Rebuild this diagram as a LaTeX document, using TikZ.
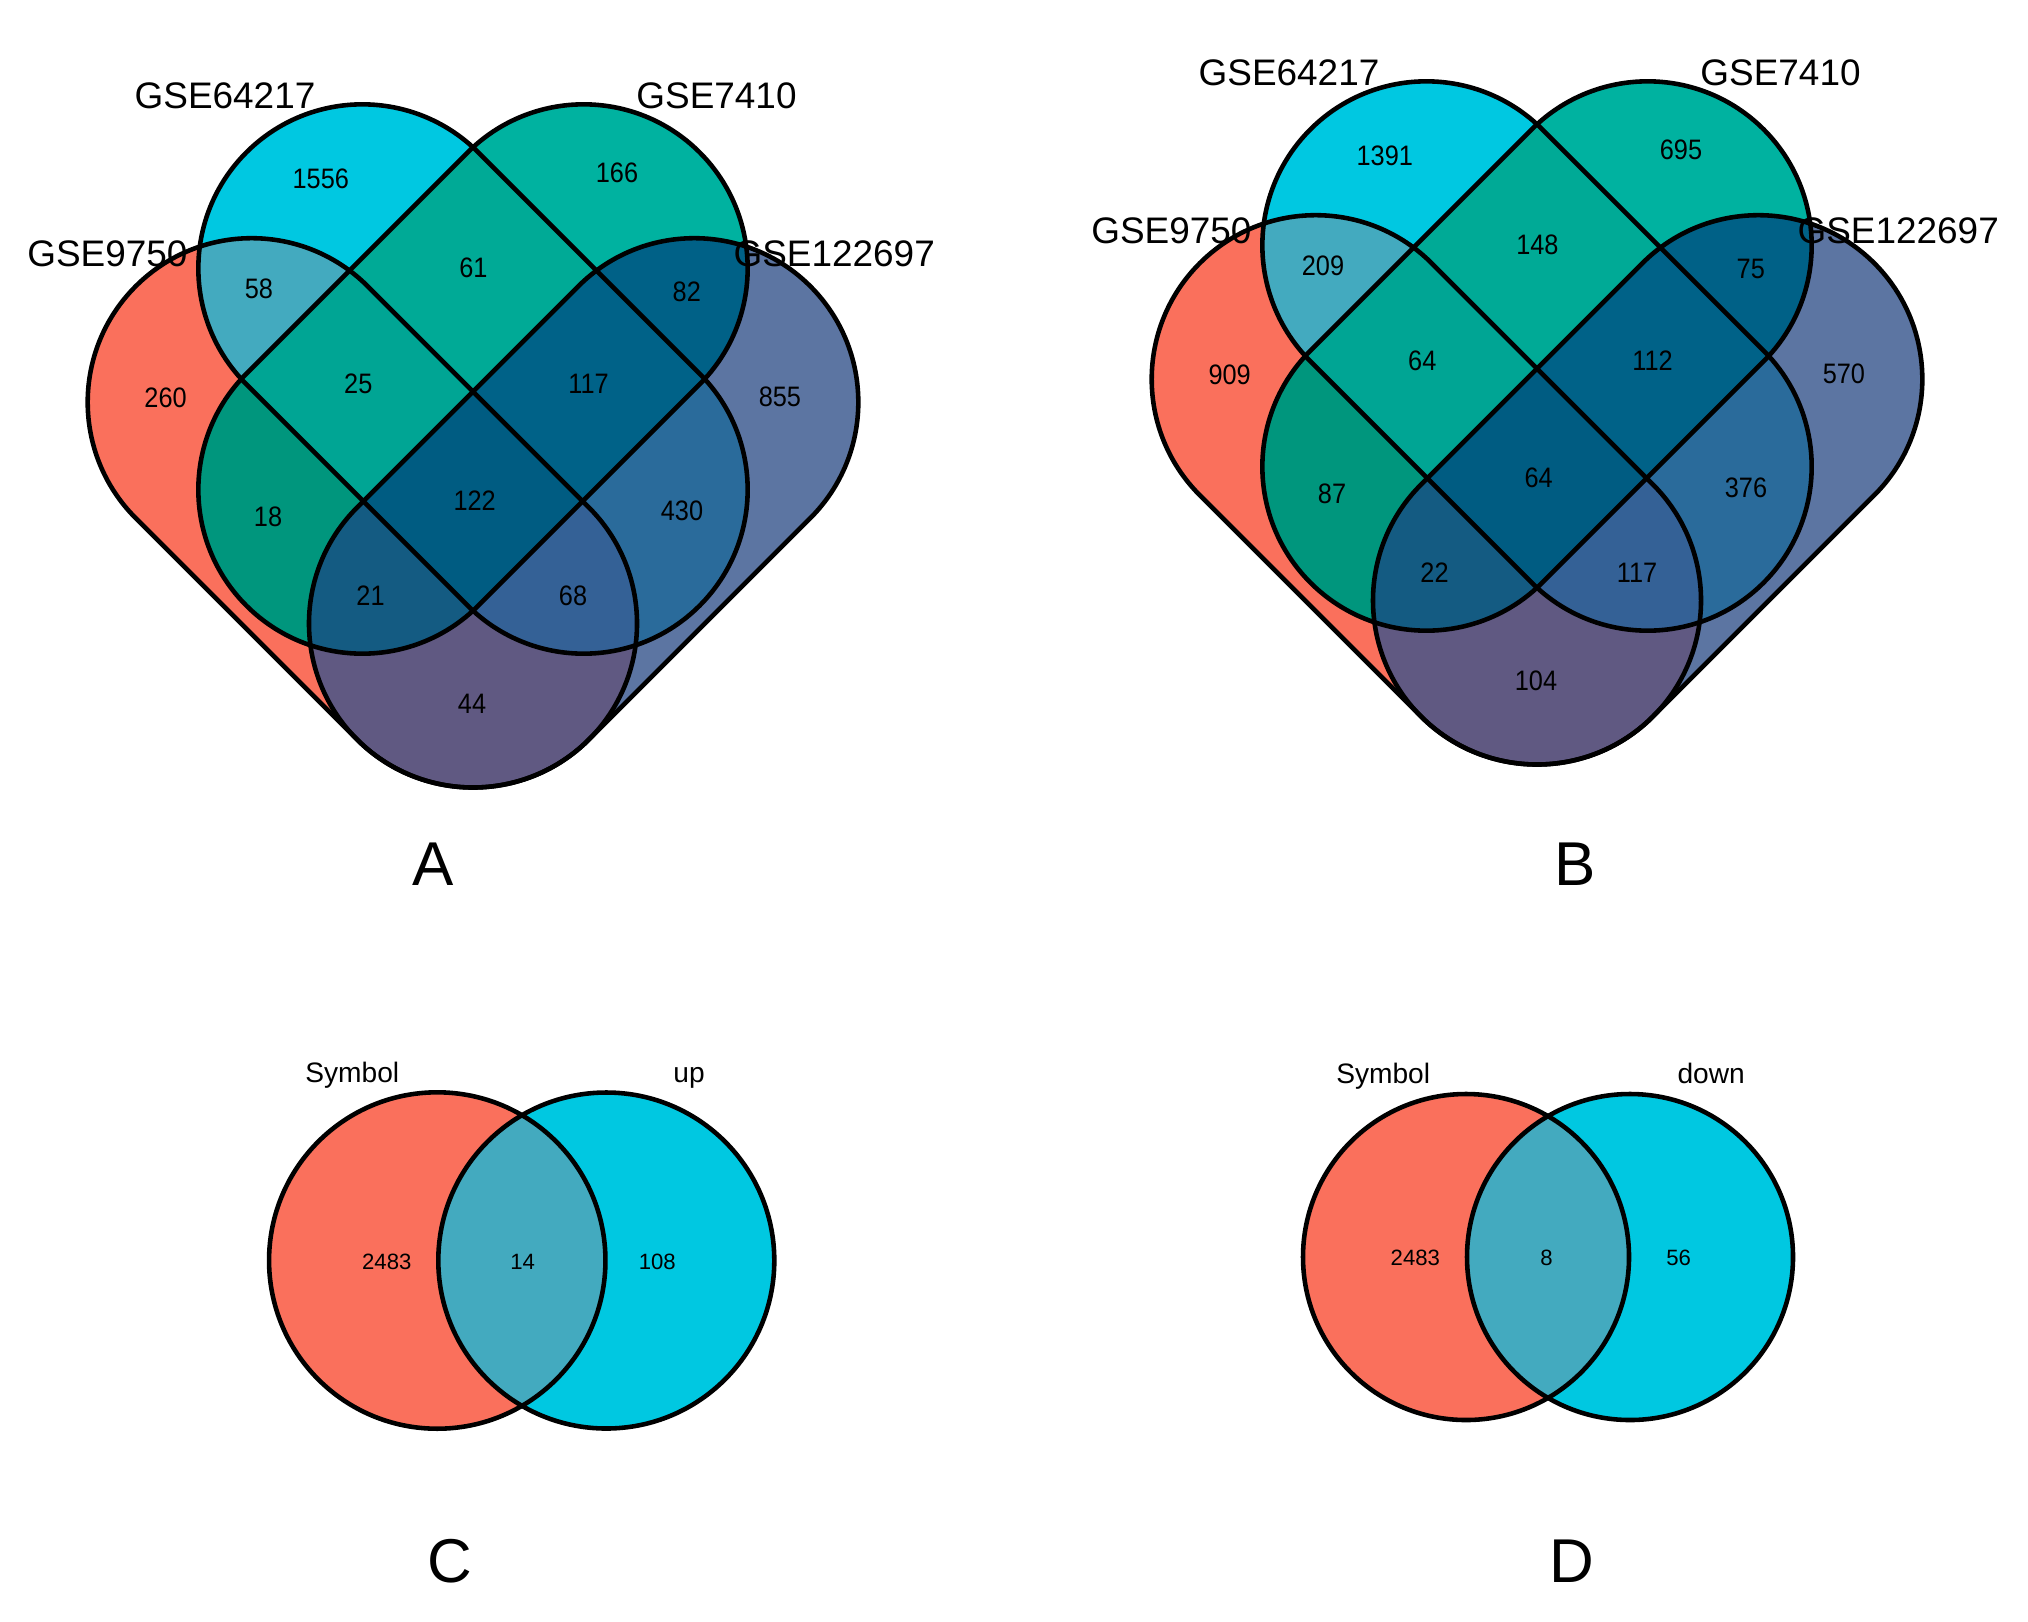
\documentclass[tikz,border=0pt]{standalone}
\usepackage{fontspec}
\setmainfont{Liberation Sans}
\usepackage{graphicx}
\definecolor{cR}{HTML}{FA705C}
\definecolor{cC}{HTML}{00C8E1}
\definecolor{cG}{HTML}{00B2A0}
\definecolor{cB}{HTML}{5C75A2}
\definecolor{cRC}{HTML}{43AABF}
\definecolor{cRG}{HTML}{00967D}
\definecolor{cRB}{HTML}{605982}
\definecolor{cCG}{HTML}{00AA96}
\definecolor{cCB}{HTML}{2A6B9B}
\definecolor{cGB}{HTML}{006187}
\definecolor{cRCG}{HTML}{00A594}
\definecolor{cRCB}{HTML}{346196}
\definecolor{cRGB}{HTML}{145B82}
\definecolor{cCGB}{HTML}{006288}
\definecolor{cALL}{HTML}{005C82}
\newcommand{\capsulepath}{(-156.5,-164) -- (156.5,-164) arc[start angle=-90,end angle=90,radius=164] -- (-156.5,164) arc[start angle=90,end angle=270,radius=164] -- cycle}
\newcommand{\nx}[1]{\scalebox{0.9}[1]{#1}}
\newcommand{\vennbody}{%
\fill[setR,fill=cR]\capsulepath;
\fill[setC,fill=cC]\capsulepath;
\fill[setG,fill=cG]\capsulepath;
\fill[setB,fill=cB]\capsulepath;
\begin{scope}\clip[setR]\capsulepath;\fill[setC,fill=cRC]\capsulepath;\end{scope}
\begin{scope}\clip[setR]\capsulepath;\fill[setG,fill=cRG]\capsulepath;\end{scope}
\begin{scope}\clip[setR]\capsulepath;\fill[setB,fill=cRB]\capsulepath;\end{scope}
\begin{scope}\clip[setC]\capsulepath;\fill[setG,fill=cCG]\capsulepath;\end{scope}
\begin{scope}\clip[setC]\capsulepath;\fill[setB,fill=cCB]\capsulepath;\end{scope}
\begin{scope}\clip[setG]\capsulepath;\fill[setB,fill=cGB]\capsulepath;\end{scope}
\begin{scope}\clip[setR]\capsulepath;\clip[setC]\capsulepath;\fill[setG,fill=cRCG]\capsulepath;\end{scope}
\begin{scope}\clip[setR]\capsulepath;\clip[setC]\capsulepath;\fill[setB,fill=cRCB]\capsulepath;\end{scope}
\begin{scope}\clip[setR]\capsulepath;\clip[setG]\capsulepath;\fill[setB,fill=cRGB]\capsulepath;\end{scope}
\begin{scope}\clip[setC]\capsulepath;\clip[setG]\capsulepath;\fill[setB,fill=cCGB]\capsulepath;\end{scope}
\begin{scope}\clip[setR]\capsulepath;\clip[setC]\capsulepath;\clip[setG]\capsulepath;\fill[setB,fill=cALL]\capsulepath;\end{scope}
\draw[setR,vline]\capsulepath;
\draw[setC,vline]\capsulepath;
\draw[setG,vline]\capsulepath;
\draw[setB,vline]\capsulepath;
}
\begin{document}
\begin{tikzpicture}[x=0.01cm,y=0.01cm,
  setR/.style={shift={(362.35,-512.85)},rotate=-45},
  setC/.style={shift={(473,-379)},rotate=-45},
  setG/.style={shift={(473,-379)},rotate=45},
  setB/.style={shift={(583.65,-512.85)},rotate=45},
  vline/.style={draw=black,line width=1.3pt},
  num/.style={font=\fontsize{8}{9.6}\selectfont,inner sep=0pt},
  gse/.style={font=\fontsize{10.5}{12.5}\selectfont,inner sep=0pt},
  panel/.style={font=\fontsize{17.6}{20}\selectfont,inner sep=0pt},
  small/.style={font=\fontsize{6.3}{7.5}\selectfont,inner sep=0pt},
  catlab/.style={font=\fontsize{8}{9.6}\selectfont,inner sep=0pt,anchor=base}]
\fill[white] (0,0) rectangle (2028,-1621);
\useasboundingbox (0,0) rectangle (2028,-1621);

% ---------- Panel A ----------
\begin{scope}
\vennbody
\node[gse] (aL1) at (225,-96) {GSE64217};
\node[gse] (aL2) at (716.5,-96) {GSE7410};
\node[gse] (aL3) at (107.4,-254) {GSE9750};
\node[gse] (aL4) at (834.2,-254) {GSE122697};
\node[num] (a1) at (320.8,-178.5) {\nx{1556}};
\node[num] (a2) at (617,-173.3) {\nx{166}};
\node[num] (a3) at (473.4,-267.7) {\nx{61}};
\node[num] (a4) at (259,-289) {\nx{58}};
\node[num] (a5) at (686.8,-292.3) {\nx{82}};
\node[num] (a6) at (165.6,-397.5) {\nx{260}};
\node[num] (a7) at (358.3,-384.1) {\nx{25}};
\node[num] (a8) at (588.5,-384.1) {\nx{117}};
\node[num] (a9) at (779.9,-397) {\nx{855}};
\node[num] (a10) at (268,-517) {\nx{18}};
\node[num] (a11) at (474.7,-500.5) {\nx{122}};
\node[num] (a12) at (682,-510.5) {\nx{430}};
\node[num] (a13) at (370.5,-595.5) {\nx{21}};
\node[num] (a14) at (573,-595.5) {\nx{68}};
\node[num] (a15) at (472,-704) {\nx{44}};
\node[panel] (pA) at (433.3,-864) {A};
\end{scope}

% ---------- Panel B ----------
\begin{scope}[shift={(1064,23)}]
\vennbody
\node[gse] (bL1) at (225,-96) {GSE64217};
\node[gse] (bL2) at (716.5,-96) {GSE7410};
\node[gse] (bL3) at (107.4,-254) {GSE9750};
\node[gse] (bL4) at (834.2,-254) {GSE122697};
\node[num] (b1) at (320.8,-178.5) {\nx{1391}};
\node[num] (b2) at (617,-173.3) {\nx{695}};
\node[num] (b3) at (473.4,-267.7) {\nx{148}};
\node[num] (b4) at (259,-289) {\nx{209}};
\node[num] (b5) at (686.8,-292.3) {\nx{75}};
\node[num] (b6) at (165.6,-397.5) {\nx{909}};
\node[num] (b7) at (358.3,-384.1) {\nx{64}};
\node[num] (b8) at (588.5,-384.1) {\nx{112}};
\node[num] (b9) at (779.9,-397) {\nx{570}};
\node[num] (b10) at (268,-517) {\nx{87}};
\node[num] (b11) at (474.7,-500.5) {\nx{64}};
\node[num] (b12) at (682,-510.5) {\nx{376}};
\node[num] (b13) at (370.5,-595.5) {\nx{22}};
\node[num] (b14) at (573,-595.5) {\nx{117}};
\node[num] (b15) at (472,-704) {\nx{104}};
\node[panel] (pB) at (511.4,-887) {B};
\end{scope}

% ---------- Panel C ----------
\fill[cR] (437.25,-1260.5) circle[radius=168.2];
\fill[cC] (606.3,-1260.5) circle[radius=168];
\begin{scope}
\clip (437.25,-1260.5) circle[radius=168.2];
\fill[cRC] (606.3,-1260.5) circle[radius=168];
\end{scope}
\draw[vline] (437.25,-1260.5) circle[radius=168.2];
\draw[vline] (606.3,-1260.5) circle[radius=168];
\node[catlab] (cS) at (352.3,-1082) {Symbol};
\node[catlab] (cU) at (689,-1082) {up};
\node[small] (c1) at (386.8,-1261.5) {2483};
\node[small] (c2) at (522.6,-1261.5) {14};
\node[small] (c3) at (657.3,-1261.5) {108};
\node[panel] (pC) at (450,-1561) {C};

% ---------- Panel D ----------
\fill[cR] (1466,-1257) circle[radius=163];
\fill[cC] (1630,-1257) circle[radius=163];
\begin{scope}
\clip (1466,-1257) circle[radius=163];
\fill[cRC] (1630,-1257) circle[radius=163];
\end{scope}
\draw[vline] (1466,-1257) circle[radius=163];
\draw[vline] (1630,-1257) circle[radius=163];
\node[catlab] (dS) at (1383.2,-1083.5) {Symbol};
\node[catlab] (dD) at (1711.2,-1083.5) {down};
\node[small] (d1) at (1415.3,-1258.3) {2483};
\node[small] (d2) at (1546.6,-1258.3) {8};
\node[small] (d3) at (1678.6,-1258.3) {56};
\node[panel] (pD) at (1571.5,-1561) {D};
\end{tikzpicture}
\end{document}
